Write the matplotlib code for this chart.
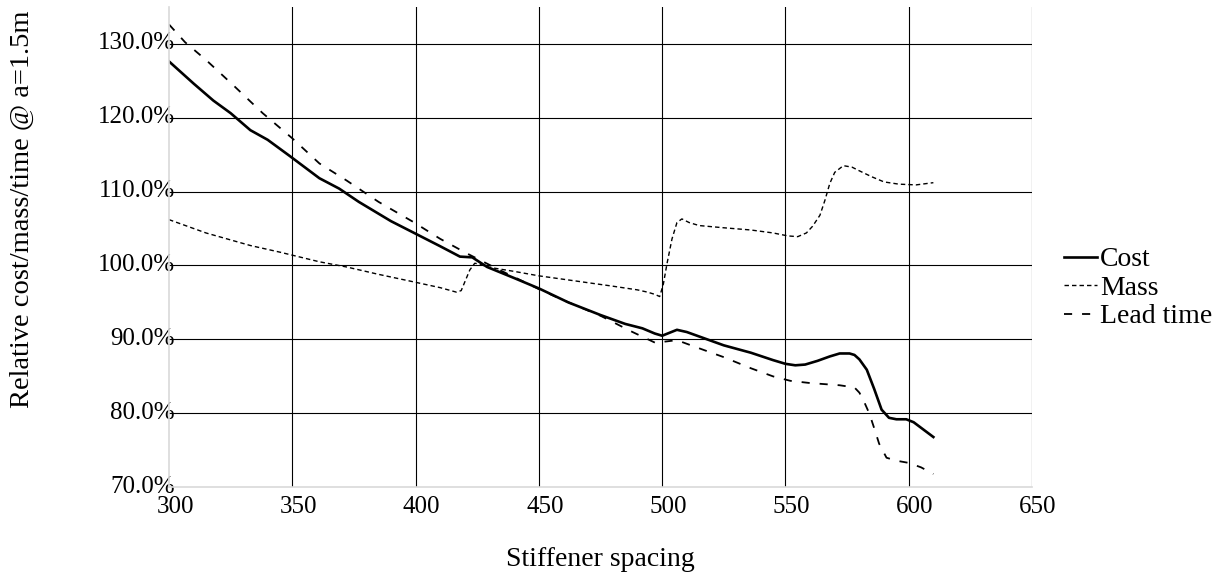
import matplotlib
matplotlib.use("Agg")
import matplotlib.pyplot as plt
import matplotlib.transforms as mtransforms
from matplotlib.ticker import PercentFormatter

plt.rcParams['font.family'] = ['Liberation Serif', 'DejaVu Serif']

# Cost (solid)
cost_x = [300, 310, 318, 325, 333, 340, 349, 361, 369, 377, 390, 400, 410, 418, 423, 429,
          440, 450, 462, 475, 485, 492, 497, 500, 503, 506, 510, 515, 525, 536, 545, 550,
          554, 558, 563, 568, 572, 576, 578, 580, 583, 586, 589, 592, 595, 599, 602, 606, 610]
cost_y = [127.6, 124.6, 122.3, 120.6, 118.3, 117.0, 114.8, 111.8, 110.4, 108.6, 106.0, 104.3,
          102.6, 101.2, 101.1, 99.8, 98.3, 96.9, 95.0, 93.3, 92.1, 91.5, 90.8, 90.5, 90.9,
          91.3, 91.0, 90.4, 89.2, 88.2, 87.2, 86.7, 86.5, 86.6, 87.1, 87.7, 88.1, 88.1, 87.9,
          87.3, 85.9, 83.3, 80.5, 79.4, 79.2, 79.2, 78.8, 77.8, 76.8]

# Mass (short dashes)
mass_x = [300, 315, 333, 345, 361, 372, 385, 399, 410, 416.5, 418.5, 420, 422, 424, 426, 429,
          440, 450, 465, 480, 490, 494, 497, 499, 500.5, 502, 504, 506, 508, 511, 515, 525,
          536, 545, 551, 555, 558.5, 561, 564, 566, 568, 570, 573.5, 577, 580, 585, 590, 596,
          603, 610]
mass_y = [106.2, 104.4, 102.7, 101.8, 100.5, 99.8, 98.8, 97.8, 97.0, 96.4, 96.6, 97.8, 99.4,
          100.3, 100.2, 99.8, 99.2, 98.6, 97.9, 97.2, 96.7, 96.4, 96.1, 95.8, 97.5, 100.3,
          103.6, 105.8, 106.3, 105.8, 105.4, 105.1, 104.8, 104.4, 104.0, 103.9, 104.4, 105.3,
          106.8, 108.8, 111.1, 112.6, 113.5, 113.3, 112.8, 112.0, 111.3, 111.0, 110.9, 111.2]

# Lead time (long dashes)
lead_x = [300, 306.5, 315, 326, 338, 350, 361, 372, 385, 399, 410, 421, 434, 450, 460, 475,
          488, 497.5, 501, 506, 515, 525, 536, 545, 552, 560, 572, 578, 580, 582, 584, 586,
          588, 591, 595, 600, 605, 610]
lead_y = [132.6, 130.2, 127.8, 124.4, 120.6, 117.2, 113.8, 111.5, 108.6, 105.9, 103.6, 101.6,
          99.4, 96.8, 95.3, 93.2, 91.0, 89.5, 89.7, 89.9, 88.8, 87.6, 86.1, 85.0, 84.4, 84.1,
          83.8, 83.5, 82.8, 81.5, 80.0, 78.0, 75.9, 74.0, 73.6, 73.3, 72.7, 71.8]

x_ticks = [300, 350, 400, 450, 500, 550, 600, 650]
y_ticks = [70, 80, 90, 100, 110, 120, 130]

fig = plt.figure(figsize=(12.31, 5.79), dpi=100)
ax = fig.add_axes([169 / 1231, 1 - 487.3 / 579, (1032 - 169) / 1231, (487.3 - 6.7) / 579])

l1, = ax.plot(cost_x, cost_y, color='black', lw=1.9, label='Cost')
l2, = ax.plot(mass_x, mass_y, color='black', lw=1.0, dashes=(3.2, 2.2), label='Mass')
l3, = ax.plot(lead_x, lead_y, color='black', lw=1.3, dashes=(4.5, 5.5), label='Lead time')

ax.set_xlim(300, 650)
ax.set_ylim(70, 135)
ax.set_xticks(x_ticks)
ax.set_yticks(y_ticks)
ax.yaxis.set_major_formatter(PercentFormatter(decimals=1))
ax.grid(True, color='black', lw=0.8)
ax.set_axisbelow(True)
ax.xaxis.get_gridlines()[0].set_visible(False)
ax.yaxis.get_gridlines()[0].set_visible(False)

for s in ['top', 'right']:
    ax.spines[s].set_visible(False)
for s in ['left', 'bottom']:
    ax.spines[s].set_color('#d9d9d9')
    ax.spines[s].set_linewidth(1.2)

ax.tick_params(axis='both', length=0, labelsize=18)
ax.tick_params(axis='y', pad=-4.3)
ax.tick_params(axis='x', pad=6.5)

off_x = mtransforms.ScaledTranslation(6 / 100, 0, fig.dpi_scale_trans)
for lab in ax.get_xticklabels():
    lab.set_transform(lab.get_transform() + off_x)
off_y = mtransforms.ScaledTranslation(0, 3 / 100, fig.dpi_scale_trans)
for lab in ax.get_yticklabels():
    lab.set_transform(lab.get_transform() + off_y)

fig.text(22 / 1231, 1 - 209 / 579, 'Relative cost/mass/time @ a=1.5m', rotation=90,
         ha='center', va='center', fontsize=20.5)
fig.text(600 / 1231, 1 - 560 / 579, 'Stiffener spacing', ha='center', va='center', fontsize=20)

fig.legend(handles=[l1, l2, l3], loc='center left',
           bbox_to_anchor=(1064 / 1231, 1 - 288 / 579), frameon=False,
           handlelength=1.2, handletextpad=0.1, labelspacing=0.11, borderpad=0,
           borderaxespad=0, fontsize=20)

fig.savefig('out.png', dpi=100)
